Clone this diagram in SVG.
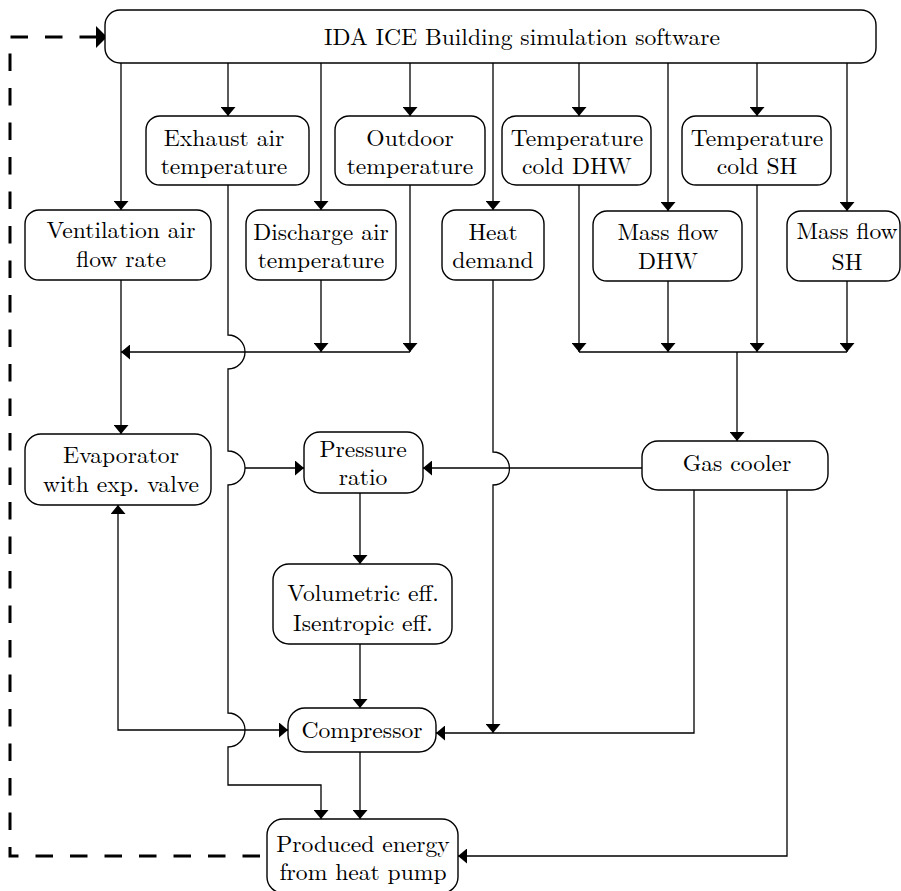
<svg xmlns="http://www.w3.org/2000/svg" width="901" height="891" viewBox="0 0 901 891">
<style>
.box{fill:#fff;stroke:#000;stroke-width:1.4}
.t{font-size:23.6px;text-anchor:middle;fill:#000}
.c{fill:none;stroke:#000;stroke-width:1.3}
.a{marker-end:url(#arr)}
.d{fill:none;stroke:#000;stroke-width:3;stroke-dasharray:17.5 17;stroke-dashoffset:24.5}
</style>
<defs>
<marker id="arr" viewBox="0 0 9 15" refX="9" refY="7.5" markerWidth="9" markerHeight="15" markerUnits="userSpaceOnUse" orient="auto-start-reverse"><path d="M0,0 L9,7.5 L0,15 Z" fill="#000"/></marker>
<marker id="arrBig" viewBox="0 0 11 22" refX="11" refY="11" markerWidth="11" markerHeight="22" markerUnits="userSpaceOnUse" orient="auto-start-reverse"><path d="M0,0 L11,11 L0,22 Z" fill="#000"/></marker>
</defs>
<g id="connectors">
<path class="c a" d="M121,63 V210"/>
<path class="c a" d="M228,63 V116"/>
<path class="c a" d="M321,63 V210"/>
<path class="c a" d="M410,63 V116"/>
<path class="c a" d="M493,63 V210"/>
<path class="c a" d="M579,63 V116"/>
<path class="c a" d="M668,63 V211"/>
<path class="c a" d="M757,63 V116"/>
<path class="c a" d="M847,63 V211"/>
<path class="c a" d="M121,280 V434"/>
<path class="c a" d="M410,185 V352"/>
<path class="c a" d="M410,352 H121"/>
<path class="c a" d="M321,280 V352"/>
<path class="c a" d="M228,185 V335 A17,17 0 0 1 228,369 V451 A17,17 0 0 1 228,485 V713 A17,17 0 0 1 228,747 V785 H321 V819"/>
<path class="c a" d="M245,468 H304"/>
<path class="c a" d="M579,185 V352"/>
<path class="c a" d="M668,281 V352"/>
<path class="c a" d="M757,185 V352"/>
<path class="c a" d="M847,281 V352"/>
<path class="c" d="M579,352 H847"/>
<path class="c a" d="M737,352 V441"/>
<path class="c a" d="M642,468 H423"/>
<path class="c a" d="M493,280 V452 A16.5,16.5 0 0 1 493,485 V733"/>
<path class="c a" d="M694,490 V733 H436"/>
<path class="c a" d="M787,490 V856 H458"/>
<path class="c a" d="M360,493 V564"/>
<path class="c a" d="M360,644 V708"/>
<path class="c a" d="M360,752 V819"/>
<path class="c a" d="M118,505 V730 H288" marker-start="url(#arr)"/>
<path class="d" d="M107,37 H10 V856 H268" marker-start="url(#arrBig)"/>
</g>
<g font-family="Latin Modern Roman, Liberation Serif, serif">
<g id="ida">
<rect class="box" x="105" y="10" width="771" height="53" rx="15"/>
<text class="t" x="522" y="45">IDA ICE Building simulation software</text>
</g>
<g id="exhaust">
<rect class="box" x="146" y="116" width="163" height="69" rx="14"/>
<text class="t"><tspan x="224" y="146">Exhaust air</tspan><tspan x="224" y="174">temperature</tspan></text>
</g>
<g id="outdoor">
<rect class="box" x="335" y="116" width="150" height="69" rx="14"/>
<text class="t"><tspan x="410" y="146">Outdoor</tspan><tspan x="410" y="174">temperature</tspan></text>
</g>
<g id="tcdhw">
<rect class="box" x="502" y="116" width="149" height="69" rx="14"/>
<text class="t"><tspan x="577" y="146">Temperature</tspan><tspan x="577" y="174">cold DHW</tspan></text>
</g>
<g id="tcsh">
<rect class="box" x="682" y="116" width="149" height="69" rx="14"/>
<text class="t"><tspan x="757" y="146">Temperature</tspan><tspan x="757" y="174">cold SH</tspan></text>
</g>
<g id="ventilation">
<rect class="box" x="25" y="210" width="186" height="70" rx="14"/>
<text class="t"><tspan x="121" y="238">Ventilation air</tspan><tspan x="121" y="267">flow rate</tspan></text>
</g>
<g id="discharge">
<rect class="box" x="246" y="210" width="150" height="70" rx="14"/>
<text class="t"><tspan x="321" y="240">Discharge air</tspan><tspan x="321" y="268">temperature</tspan></text>
</g>
<g id="heat">
<rect class="box" x="442" y="210" width="102" height="70" rx="14"/>
<text class="t"><tspan x="493" y="240">Heat</tspan><tspan x="493" y="268">demand</tspan></text>
</g>
<g id="massdhw">
<rect class="box" x="593" y="211" width="149" height="70" rx="14"/>
<text class="t"><tspan x="668" y="240">Mass flow</tspan><tspan x="668" y="269">DHW</tspan></text>
</g>
<g id="masssh">
<rect class="box" x="787" y="211" width="113" height="70" rx="14"/>
<text class="t"><tspan x="847" y="239">Mass flow</tspan><tspan x="847" y="270">SH</tspan></text>
</g>
<g id="evaporator">
<rect class="box" x="25" y="434" width="186" height="71" rx="16"/>
<text class="t"><tspan x="121" y="463">Evaporator</tspan><tspan x="121" y="492">with exp. valve</tspan></text>
</g>
<g id="pressure">
<rect class="box" x="304" y="432" width="119" height="61" rx="16"/>
<text class="t"><tspan x="363" y="457">Pressure</tspan><tspan x="363" y="485">ratio</tspan></text>
</g>
<g id="gascooler">
<rect class="box" x="642" y="441" width="186" height="49" rx="16"/>
<text class="t" x="737" y="471">Gas cooler</text>
</g>
<g id="volumetric">
<rect class="box" x="273" y="564" width="179" height="80" rx="16"/>
<text class="t"><tspan x="363" y="601">Volumetric eff.</tspan><tspan x="363" y="631">Isentropic eff.</tspan></text>
</g>
<g id="compressor">
<rect class="box" x="288" y="708" width="148" height="44" rx="17"/>
<text class="t" x="362" y="738">Compressor</text>
</g>
<g id="produced">
<rect class="box" x="267" y="819" width="191" height="74" rx="16"/>
<text class="t"><tspan x="363" y="852">Produced energy</tspan><tspan x="363" y="880">from heat pump</tspan></text>
</g>
</g>
</svg>
